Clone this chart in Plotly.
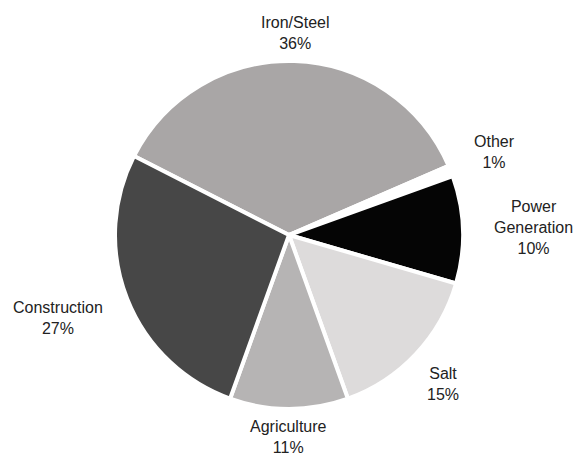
import math
import plotly.graph_objects as go

labels = ["Iron/Steel", "Other", "Power<br>Generation", "Salt", "Agriculture", "Construction"]
values = [36, 1, 10, 15, 11, 27]
colors = ["#a9a6a6", "#ffffff", "#050505", "#dddbdb", "#b6b4b4", "#474747"]

W, H = 582, 456
ROTATION = -63  # degrees clockwise from 12 o'clock where first slice starts
dom_x = [0.1976, 0.7955]
dom_y = [0.1031, 0.8662]

fig = go.Figure(go.Pie(
    labels=labels,
    values=values,
    sort=False,
    direction="clockwise",
    rotation=ROTATION,
    marker=dict(colors=colors, line=dict(color="white", width=4)),
    textinfo="none",
    showlegend=False,
    hoverinfo="skip",
    domain=dict(x=dom_x, y=dom_y),
))

# outside labels placed from the slice mid-angles
cx = (dom_x[0] + dom_x[1]) / 2 * W
cy = (1 - (dom_y[0] + dom_y[1]) / 2) * H
R = min((dom_x[1] - dom_x[0]) * W, (dom_y[1] - dom_y[0]) * H) / 2
total = sum(values)
start = 90 - ROTATION  # math angle (deg, ccw from +x)
cum = 0
for lab, v in zip(labels, values):
    mid = math.radians(start - 360 * (cum + v / 2) / total)
    cum += v
    c, s = math.cos(mid), math.sin(mid)
    gap = 8 + 22 * c ** 4
    px = cx + (R + gap) * c
    py = cy - (R + gap) * s
    xa = "left" if c > 0.35 else ("right" if c < -0.35 else "center")
    ya = "bottom" if s > 0.5 else ("top" if s < -0.5 else "middle")
    if ya == "middle":
        py -= 26 * s
    fig.add_annotation(
        x=px / W, y=1 - py / H, xref="paper", yref="paper",
        text=f"{lab}<br>{round(100 * v / total)}%",
        showarrow=False, xanchor=xa, yanchor=ya, align="center",
        borderpad=0,
        font=dict(family="Liberation Sans, Arial, sans-serif", size=16, color="#222222"),
    )

fig.update_layout(
    width=W, height=H,
    margin=dict(l=0, r=0, t=0, b=0),
    paper_bgcolor="white",
    plot_bgcolor="white",
)

fig.write_html("out.html")
